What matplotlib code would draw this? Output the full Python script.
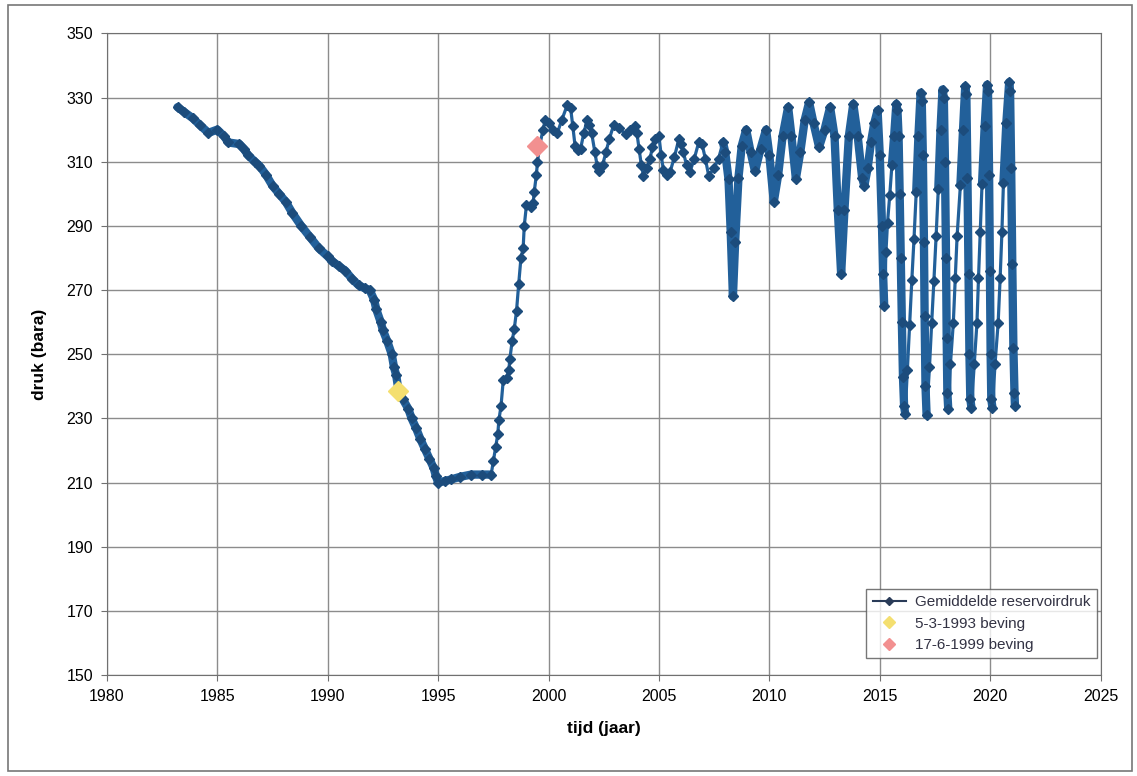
import numpy as np
import matplotlib.pyplot as plt
from matplotlib.lines import Line2D
from matplotlib.patches import Rectangle

plt.rcParams['font.family'] = ['Liberation Sans', 'DejaVu Sans']

# --- data ---
# 1983-1997: pressure decline
jaar_daling = [1983.2, 1983.5, 1983.9, 1984.2, 1984.6, 1985.0, 1985.3, 1985.5, 1986.0, 1986.2,
               1986.4, 1986.7, 1986.9, 1987.2, 1987.5, 1987.8, 1988.1, 1988.4, 1988.8, 1989.2,
               1989.6, 1990.0, 1990.2, 1990.5, 1990.8, 1991.1, 1991.4, 1991.7, 1991.9, 1992.1,
               1992.2, 1992.4, 1992.5, 1992.7, 1992.9, 1993.0, 1993.1, 1993.2, 1993.4, 1993.65,
               1993.8, 1994.0, 1994.2, 1994.4, 1994.6, 1994.8, 1994.9, 1995.0, 1995.3, 1995.6,
               1996.0, 1996.5, 1997.0, 1997.4]
druk_daling = [327, 325.5, 323.5, 321.5, 319, 320, 318, 316, 315.5, 314,
               312, 310, 308.8, 306, 302.5, 300, 297.5, 294, 290, 286.5,
               283, 280.5, 279, 277.5, 276, 273.5, 271.5, 270.5, 270, 267,
               264, 260, 257.5, 254, 250, 246, 243.5, 239, 236, 233,
               230, 227, 223.5, 220.5, 217.5, 214.5, 212, 210, 210.5, 211,
               211.8, 212.5, 212.5, 212.5]

# 1997-1999: refill
jaar_herstel = [1997.5, 1997.6, 1997.7, 1997.75, 1997.85, 1997.95, 1998.1, 1998.2, 1998.25, 1998.35,
                1998.45, 1998.55, 1998.65, 1998.75, 1998.85, 1998.9, 1999.0, 1999.2, 1999.3, 1999.35,
                1999.45, 1999.5]
druk_herstel = [216.7, 221, 225, 229.4, 234, 242, 242.5, 245, 248.6, 254,
                258, 263.5, 272, 280, 283, 290, 296.5, 296, 297, 300.5,
                306, 310]

# 1999-2015: seasonal swings
jaar_swing = [1999.6, 1999.75, 1999.85, 2000.0, 2000.2, 2000.4, 2000.6, 2000.85, 2001.0, 2001.1,
              2001.2, 2001.35, 2001.45, 2001.6, 2001.75, 2001.85, 2001.95, 2002.1, 2002.2, 2002.3,
              2002.45, 2002.6, 2002.75, 2002.95, 2003.2, 2003.5, 2003.7, 2003.9, 2004.0, 2004.1,
              2004.2, 2004.3, 2004.45, 2004.6, 2004.7, 2004.8, 2005.0, 2005.1, 2005.2, 2005.35,
              2005.5, 2005.7, 2005.9, 2006.0, 2006.1, 2006.25, 2006.4, 2006.6, 2006.8, 2006.95,
              2007.1, 2007.25, 2007.5, 2007.7, 2007.9, 2008.0, 2008.15, 2008.25, 2008.35, 2008.45,
              2008.6, 2008.75, 2008.95, 2009.15, 2009.35, 2009.6, 2009.85, 2010.0, 2010.2, 2010.4,
              2010.6, 2010.85, 2011.0, 2011.2, 2011.4, 2011.6, 2011.8, 2012.0, 2012.25, 2012.5,
              2012.75, 2012.95, 2013.1, 2013.25, 2013.4, 2013.6, 2013.8, 2014.0, 2014.2, 2014.3,
              2014.45, 2014.6, 2014.75, 2014.9]
druk_swing = [315, 320, 323, 322, 320, 319, 323, 327.7, 326.7, 321,
              315, 313.5, 314, 319, 323, 321.5, 319, 313, 308.8, 307,
              309, 313, 317, 321.5, 320.5, 318.5, 320, 321, 319, 314,
              309, 305.7, 308, 311, 314.5, 317, 318, 312, 307.5, 306,
              306.7, 311.5, 317, 315.5, 313, 309, 306.7, 311, 316, 315.5,
              311, 305.7, 308, 311, 316, 313, 304.5, 288, 268, 285,
              305, 315, 320, 313, 307, 314, 320, 312, 297.5, 306,
              318, 327, 318, 304.7, 313, 323, 328.5, 322, 314.6, 320,
              327, 318, 295, 275, 295, 318, 328, 318, 305, 302.5,
              308, 316, 322, 326]

# 2015-2021: large annual cycles
jaar_cycli = [2015.0, 2015.1, 2015.15, 2015.2, 2015.28, 2015.35, 2015.45, 2015.55, 2015.65, 2015.75,
              2015.8, 2015.85, 2015.9, 2015.95, 2016.0, 2016.05, 2016.1, 2016.15,
              2016.25, 2016.35, 2016.45, 2016.55, 2016.65, 2016.75, 2016.85,
              2016.9, 2016.95, 2017.0, 2017.03, 2017.07, 2017.12,
              2017.25, 2017.35, 2017.45, 2017.55, 2017.65, 2017.75, 2017.84,
              2017.9, 2017.95, 2018.0, 2018.03, 2018.06, 2018.1,
              2018.2, 2018.33, 2018.42, 2018.5, 2018.65, 2018.77, 2018.87,
              2018.92, 2018.97, 2019.02, 2019.06, 2019.1, 2019.15,
              2019.28, 2019.4, 2019.47, 2019.55, 2019.63, 2019.75, 2019.86,
              2019.9, 2019.95, 2019.99, 2020.02, 2020.05, 2020.1,
              2020.22, 2020.36, 2020.45, 2020.53, 2020.6, 2020.73, 2020.86,
              2020.9, 2020.95, 2021.0, 2021.05, 2021.1, 2021.12]
druk_cycli = [312, 290, 275, 265, 282, 291, 299.5, 309, 318, 328,
              326, 318, 300, 280, 260, 243, 234, 231.5,
              245, 259, 273, 286, 300.5, 318, 331.5,
              329, 312, 285, 262, 240, 231,
              246, 259.8, 272.8, 286.7, 301.6, 320, 332.5,
              330, 310, 280, 255, 238, 233,
              247, 259.8, 273.7, 286.7, 302.6, 320, 333.5,
              331, 305, 275, 250, 236, 233.4,
              247, 259.8, 273.7, 288, 303, 321, 334,
              332, 306, 276, 250, 236, 233.4,
              247, 259.8, 273.7, 288, 303.5, 322, 334.8,
              332, 308, 278, 252, 238, 234]

# earthquakes
jaar_beving_1993 = [1993.17]
druk_beving_1993 = [238.5]
jaar_beving_1999 = [1999.46]
druk_beving_1999 = [315]

jaar_ticks = list(range(1980, 2026, 5))
druk_ticks = list(range(150, 351, 20))

# --- plot ---
lijn_kleur = '#22609a'
marker_kleur = '#1c4c7c'

jaar = np.concatenate([jaar_daling, jaar_herstel, jaar_swing, jaar_cycli])
druk = np.concatenate([druk_daling, druk_herstel, druk_swing, druk_cycli])

# dense daily data shows up as a thick band; sparse parts are a thin line with markers
stijg = np.r_[False, np.diff(druk) > 0]
dun = ((jaar > 1997.45) & (jaar < 2007.9)) | ((jaar > 2015.1) & stijg & (druk < 300))
druk_dik = np.where(dun, np.nan, druk)

fig = plt.figure(figsize=(11.37, 7.76), dpi=100)
ax = fig.add_axes([0.094, 0.130, 0.874, 0.827])

ax.plot(jaar, druk_dik, color=lijn_kleur, lw=6, solid_joinstyle='round',
        solid_capstyle='round', zorder=2)
ax.plot(jaar, druk, color=lijn_kleur, lw=2.3, marker='D', ms=5.5,
        mfc=marker_kleur, mec=marker_kleur, zorder=3)
ax.plot(jaar_beving_1993, druk_beving_1993, ls='none', marker='D', ms=10,
        color='#f4df70', mec='#f4df70', zorder=4)
ax.plot(jaar_beving_1999, druk_beving_1999, ls='none', marker='D', ms=10,
        color='#f29090', mec='#f29090', zorder=4)

ax.set_xlim(1980, 2025)
ax.set_ylim(150, 350)
ax.set_xticks(jaar_ticks)
ax.set_yticks(druk_ticks)
ax.grid(True, color='#8c8c8c', lw=1.0)
ax.set_axisbelow(True)
for s in ax.spines.values():
    s.set_color('#707070')
ax.tick_params(labelsize=11.5, length=4, color='#707070', pad=6)

ax.set_xlabel('tijd (jaar)', fontsize=12.5, fontweight='bold', labelpad=12)
ax.set_ylabel('druk (bara)', fontsize=12.5, fontweight='bold', labelpad=14)

handles = [
    Line2D([], [], color='#2a3b58', lw=1.5, marker='D', ms=4, mfc='#2a3b58', mec='#2a3b58'),
    Line2D([], [], ls='none', marker='D', ms=6, color='#f4df70'),
    Line2D([], [], ls='none', marker='D', ms=6, color='#f29090'),
]
labels = ['Gemiddelde reservoirdruk', '5-3-1993 beving', '17-6-1999 beving']
leg = ax.legend(handles, labels, loc='lower right', bbox_to_anchor=(1.004, 0.014),
                fontsize=11, frameon=True, fancybox=False, numpoints=1,
                handlelength=2.2, borderpad=0.4, labelspacing=0.5, handletextpad=0.6)
leg.get_frame().set_edgecolor('#555555')
leg.get_frame().set_linewidth(1.0)
for t in leg.get_texts():
    t.set_color('#333344')

# chart area border
fig.patches.append(Rectangle((0.007, 0.006), 0.989, 0.988, transform=fig.transFigure,
                             fill=False, edgecolor='#777777', lw=1.2))

fig.savefig('out.png', dpi=100)
